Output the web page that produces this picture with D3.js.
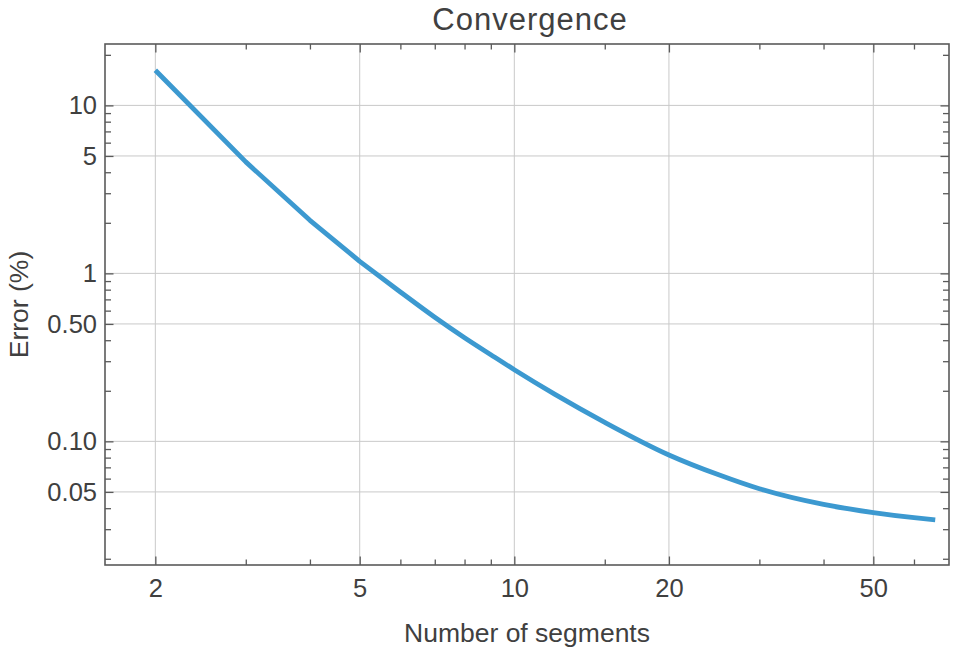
<!DOCTYPE html>
<html>
<head>
<meta charset="utf-8">
<script src="https://cdn.jsdelivr.net/npm/d3@7/dist/d3.min.js"></script>
<style>
  html, body { margin: 0; padding: 0; background: #fff; }
  svg { display: block; font-family: "Liberation Sans", Arial, sans-serif; }
</style>
</head>
<body>
<svg id="chart" width="960" height="652"></svg>
<script>
// ---- data ----
const segments = [2, 3, 4, 5, 6, 7, 8, 9, 10, 12, 15, 20, 25, 30, 40, 50, 60, 66];
const errorPct = [16.2, 4.61, 2.07, 1.18, 0.775, 0.548, 0.414, 0.328, 0.267, 0.1905, 0.1298, 0.0830, 0.0632, 0.0522, 0.0421, 0.03765, 0.0351, 0.0341];

const xMajorTicks = [2, 5, 10, 20, 50];
const xMinorTicks = [3, 4, 6, 7, 8, 9, 15, 30, 40, 60];
const yMajorTicks = [10, 5, 1, 0.5, 0.1, 0.05];
const yMajorLabels = ["10", "5", "1", "0.50", "0.10", "0.05"];
const yMinorTicks = [20, 9, 8, 7, 6, 4, 3, 2, 0.9, 0.8, 0.7, 0.6, 0.4, 0.3, 0.2, 0.09, 0.08, 0.07, 0.06, 0.04, 0.03, 0.02];
const xDomain = [1.596, 70.2];
const yDomain = [0.01836, 23.2];

const titleText = "Convergence";
const xLabelText = "Number of segments";
const yLabelText = "Error (%)";

// ---- layout ----
const L = 105, R = 949, T = 44, B = 565;
const textColor = "#404040";
const frameColor = "#5a5a5a";
const gridColor = "#c9c9c9";
const lineColor = "#3c99d0";

const svg = d3.select("#chart");
const x = d3.scaleLog().domain(xDomain).range([L, R]);
const y = d3.scaleLog().domain(yDomain).range([B, T]);

// grid
const grid = svg.append("g");
grid.selectAll("line.gx").data(xMajorTicks).join("line")
  .attr("x1", d => x(d)).attr("x2", d => x(d)).attr("y1", T).attr("y2", B)
  .attr("stroke", gridColor).attr("stroke-width", 1);
grid.selectAll("line.gy").data(yMajorTicks).join("line")
  .attr("y1", d => y(d)).attr("y2", d => y(d)).attr("x1", L).attr("x2", R)
  .attr("stroke", gridColor).attr("stroke-width", 1);

// data line: straight joins for the first coarse steps, smooth afterwards
svg.append("clipPath").attr("id", "clip").append("rect")
  .attr("x", L).attr("y", T).attr("width", R - L).attr("height", B - T);
const pts = segments.map((s, i) => [s, errorPct[i]]);
const splitIdx = 3; // n = 5
const headPath = d3.line().x(d => x(d[0])).y(d => y(d[1])).curve(d3.curveLinear)(pts.slice(0, splitIdx + 1));
const tailPath = d3.line().x(d => x(d[0])).y(d => y(d[1])).curve(d3.curveMonotoneX)(pts.slice(splitIdx));
const tailNoMove = tailPath.replace(/^M[^A-Za-z]*/, "");
svg.append("path")
  .attr("clip-path", "url(#clip)")
  .attr("d", headPath + tailNoMove)
  .attr("fill", "none").attr("stroke", lineColor).attr("stroke-width", 4.8)
  .attr("stroke-linejoin", "round");

// axes
function styleAxis(g) {
  g.select(".domain").remove();
  g.selectAll(".tick line").attr("stroke", frameColor).attr("stroke-width", 1.3);
  g.selectAll(".tick text").attr("fill", textColor).attr("font-size", 25.5)
    .attr("font-family", "'Liberation Sans', Arial, sans-serif");
}
// bottom
svg.append("g").attr("transform", `translate(0,${B})`)
  .call(d3.axisBottom(x).tickValues(xMajorTicks).tickFormat(d3.format("d")).tickSizeInner(-8.5).tickSizeOuter(0).tickPadding(14))
  .call(styleAxis);
svg.append("g").attr("transform", `translate(0,${B})`)
  .call(d3.axisBottom(x).tickValues(xMinorTicks).tickFormat("").tickSizeInner(-5.5).tickSizeOuter(0))
  .call(styleAxis);
// top
svg.append("g").attr("transform", `translate(0,${T})`)
  .call(d3.axisTop(x).tickValues(xMajorTicks).tickFormat("").tickSizeInner(-8.5).tickSizeOuter(0))
  .call(styleAxis);
svg.append("g").attr("transform", `translate(0,${T})`)
  .call(d3.axisTop(x).tickValues(xMinorTicks).tickFormat("").tickSizeInner(-5.5).tickSizeOuter(0))
  .call(styleAxis);
// left
svg.append("g").attr("transform", `translate(${L},0)`)
  .call(d3.axisLeft(y).tickValues(yMajorTicks).tickFormat((d, i) => yMajorLabels[i]).tickSizeInner(-8.5).tickSizeOuter(0).tickPadding(8))
  .call(styleAxis);
svg.append("g").attr("transform", `translate(${L},0)`)
  .call(d3.axisLeft(y).tickValues(yMinorTicks).tickFormat("").tickSizeInner(-6).tickSizeOuter(0))
  .call(styleAxis);
// right
svg.append("g").attr("transform", `translate(${R},0)`)
  .call(d3.axisRight(y).tickValues(yMajorTicks).tickFormat("").tickSizeInner(-8.5).tickSizeOuter(0))
  .call(styleAxis);
svg.append("g").attr("transform", `translate(${R},0)`)
  .call(d3.axisRight(y).tickValues(yMinorTicks).tickFormat("").tickSizeInner(-6).tickSizeOuter(0))
  .call(styleAxis);

// frame
svg.append("rect").attr("x", L).attr("y", T).attr("width", R - L).attr("height", B - T)
  .attr("fill", "none").attr("stroke", frameColor).attr("stroke-width", 1.6);

// titles
svg.append("text").attr("x", 530).attr("y", 30).attr("text-anchor", "middle")
  .attr("font-size", 31).attr("letter-spacing", 1.0).attr("fill", textColor).text(titleText);
svg.append("text").attr("x", 527).attr("y", 642).attr("text-anchor", "middle")
  .attr("font-size", 26.5).attr("fill", textColor).text(xLabelText);
svg.append("text").attr("transform", `translate(28,${(T + B) / 2}) rotate(-90)`)
  .attr("text-anchor", "middle").attr("font-size", 26.5).attr("fill", textColor).text(yLabelText);
</script>
</body>
</html>
